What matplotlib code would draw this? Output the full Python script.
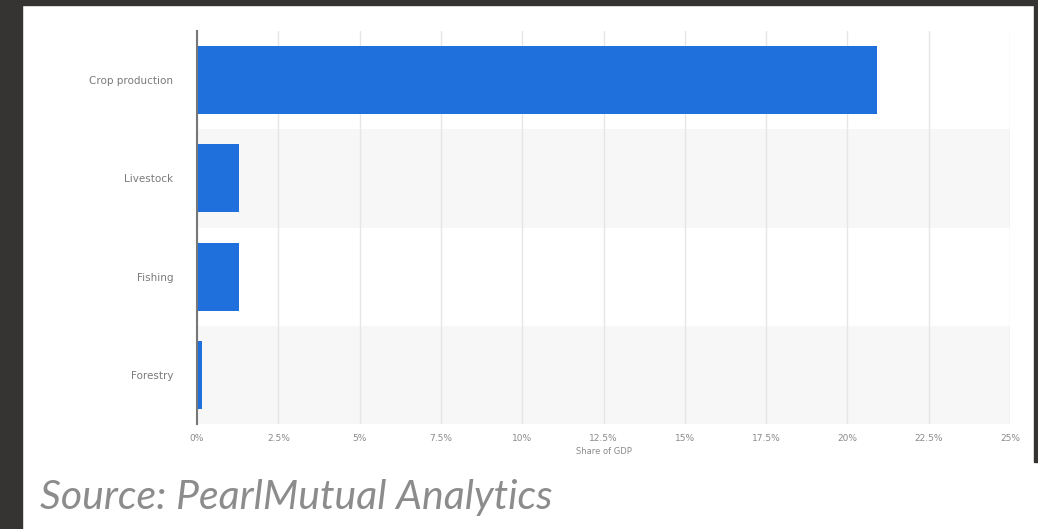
import matplotlib
matplotlib.use("Agg")
import matplotlib.pyplot as plt
from matplotlib.patches import Rectangle

categories = ["Crop production", "Livestock", "Fishing", "Forestry"]
values = [20.9, 1.3, 1.3, 0.15]
xticks = [0, 2.5, 5, 7.5, 10, 12.5, 15, 17.5, 20, 22.5, 25]
xticklabels = ["0%", "2.5%", "5%", "7.5%", "10%", "12.5%", "15%", "17.5%", "20%", "22.5%", "25%"]

W, H = 1038, 529
fig = plt.figure(figsize=(W / 100, H / 100), dpi=100)
fig.patch.set_facecolor("white")

# dark frame
dark = "#353433"
fig.add_artist(Rectangle((0, 0), 22 / W, 1, transform=fig.transFigure, color=dark, zorder=0))
fig.add_artist(Rectangle((0, 1 - 5 / H), 1, 5 / H, transform=fig.transFigure, color=dark, zorder=0))
fig.add_artist(Rectangle((1034 / W, 1 - 462 / H), 4 / W, 462 / H, transform=fig.transFigure, color=dark, zorder=0))

x0, x1 = 197, 1010
y0, y1 = 31, 424
ax = fig.add_axes([x0 / W, 1 - y1 / H, (x1 - x0) / W, (y1 - y0) / H])
ax.set_facecolor("none")

n = len(categories)
ypos = list(range(n))
for i in ypos:
    if i % 2 == 1:
        ax.axhspan(i - 0.5, i + 0.5, xmin=0, xmax=1, color="#f7f7f7", zorder=0, lw=0)

ax.barh(ypos, values, height=0.69, color="#1f6fdc", zorder=3)
ax.set_ylim(n - 0.5, -0.5)
ax.set_xlim(0, 25)
ax.set_xticks(xticks)
ax.set_xticklabels(xticklabels, fontsize=6.5, color="#8a8a8a", family="DejaVu Sans")
ax.set_yticks(ypos)
ax.set_yticklabels(categories, fontsize=7.5, color="#7a7a7a", family="DejaVu Sans")
ax.tick_params(axis="both", length=0)
ax.tick_params(axis="y", pad=17)
ax.tick_params(axis="x", pad=7)
ax.grid(axis="x", color="#e6e6e6", lw=1, zorder=1)
for s in ["top", "right", "bottom"]:
    ax.spines[s].set_visible(False)
ax.spines["left"].set_color("#777777")
ax.spines["left"].set_linewidth(1.5)
ax.spines["left"].set_zorder(4)
ax.set_xlabel("Share of GDP", fontsize=6, color="#8a8a8a", labelpad=3)

fig.text(40 / W, 1 - 497 / H, "Source: PearlMutual Analytics", fontsize=29.5, style="italic",
         color="#8c8c8c", family="Lato", va="center", ha="left")

fig.savefig("out.png", dpi=100, facecolor=fig.get_facecolor())
